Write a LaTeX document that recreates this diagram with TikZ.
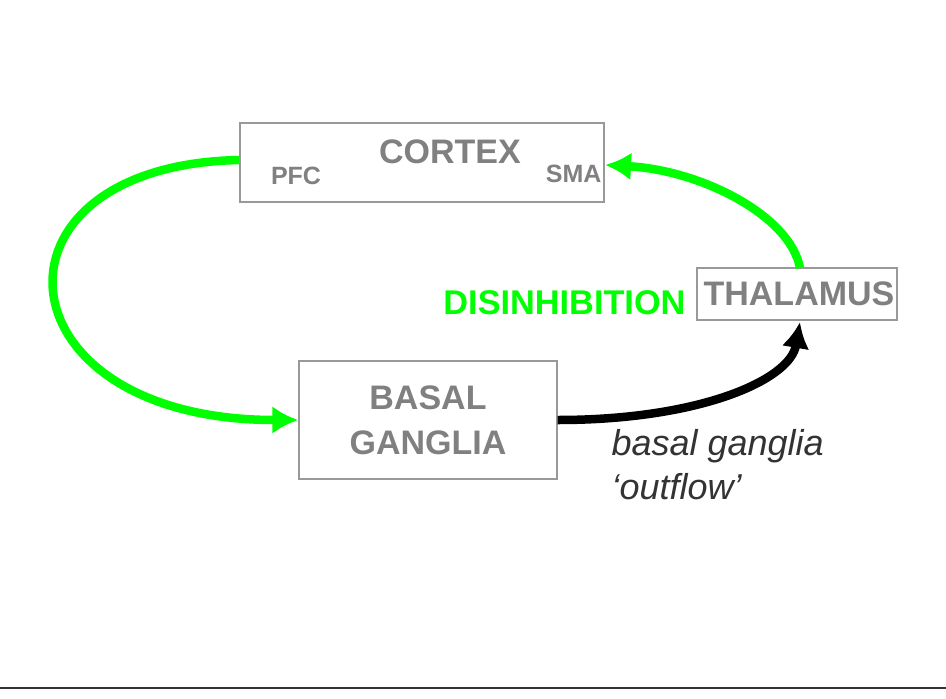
\documentclass[tikz,border=0pt]{standalone}
\usepackage{fontspec}
\setmainfont{Liberation Sans}
\usetikzlibrary{arrows.meta}
\definecolor{lbl}{HTML}{808080}
\definecolor{grn}{HTML}{00FF00}
\tikzset{
  box/.style={draw=lbl!80, line width=1.2pt, fill=white, inner sep=0pt},
  lab/.style={text=lbl, font=\fontsize{34}{36}\selectfont\bfseries},
  small/.style={text=lbl, font=\fontsize{25}{26}\selectfont\bfseries},
  garrow/.style={draw=grn, line width=8.5pt, -{Latex[length=26pt,width=28pt]}},
  karrow/.style={draw=black, line width=8.5pt, -{Latex[length=26pt,width=28pt]}},
}
\begin{document}
\begin{tikzpicture}[x=1pt,y=-1pt]
\useasboundingbox (0,0) rectangle (946,699);
\fill[white] (0,0) rectangle (946,699);
\node[box, minimum width=364pt, minimum height=79pt] (cortex) at (422,162.5) {};
\node[lab, anchor=base] (ct) at (450,163) {CORTEX};
\node[small, anchor=base] (pfc) at (296,184) {PFC};
\node[small, anchor=base east] (sma) at (605,182) {SMA};
\node[box, minimum width=200pt, minimum height=52pt] (thal) at (797,294) {};
\node[lab, anchor=base] (tt) at (799,305) {THALAMUS};
\node[box, minimum width=258pt, minimum height=118pt, align=center, lab, font=\fontsize{34}{45}\selectfont\bfseries] (bg) at (428,420) {BASAL\\GANGLIA};
\node[text=grn, font=\fontsize{34.3}{36}\selectfont\bfseries, anchor=base east] (dis) at (689,314) {DISINHIBITION};
\node[font=\fontsize{36}{44}\selectfont\itshape, text=black!80, align=left, anchor=north west] (out) at (608,426) {basal ganglia\\‘outflow’};
\draw[garrow] (cortex.west |- 0,160) .. controls (-25,165) and (-5,420) .. (bg.west);
\draw[garrow] (800,268) .. controls (790,215) and (700,170) .. (sma.east |- 0,165);
\draw[karrow] (bg.east) .. controls (700,420) and (790,380) .. (800,322);
\draw[line width=2.5pt, black!80] (0,688) -- (946,688);
\end{tikzpicture}
\end{document}
